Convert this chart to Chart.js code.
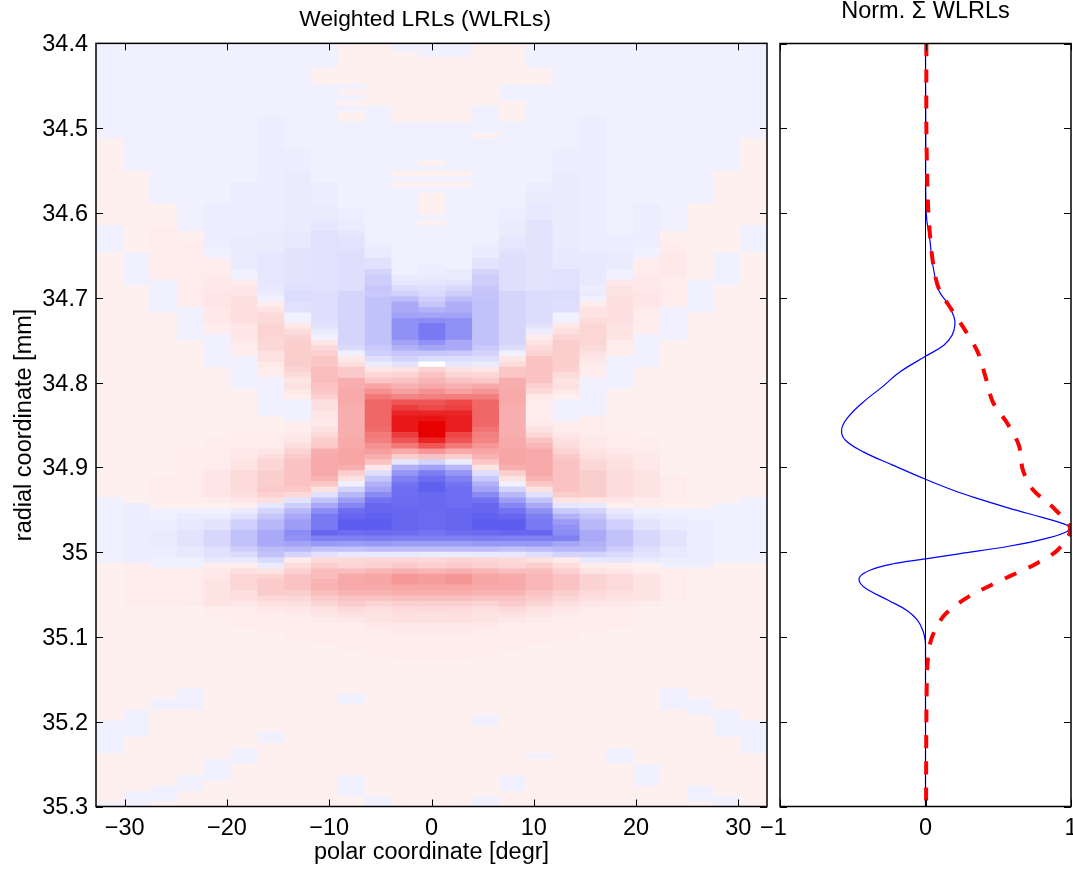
<!DOCTYPE html>
<html>
<head>
<meta charset="utf-8">
<title>Weighted LRLs</title>
<script src="https://cdn.jsdelivr.net/npm/chart.js@4/dist/chart.umd.js"></script>
<style>
    html, body { margin: 0; padding: 0; background: #fff; }
    #wrap { position: relative; width: 1073px; height: 869px; overflow: hidden; }
    .box { position: absolute; top: 0; height: 869px; }
</style>
</head>
<body>
<div id="wrap">
    <div class="box" style="left:0;width:775px"><canvas id="mapChart"></canvas></div>
    <div class="box" style="left:745px;width:328px"><canvas id="sumChart"></canvas></div>
</div>
<script>
// polar coordinate of each image column
const polarCoords = [-31.5, -28.875, -26.25, -23.625, -21, -18.375, -15.75, -13.125, -10.5, -7.875, -5.25, -2.625, 0,
    2.625, 5.25, 7.875, 10.5, 13.125, 15.75, 18.375, 21, 23.625, 26.25, 28.875, 31.5];

// one list per column: [first image row of the run, value in % of the colour range]
const col00 = [[0,-1],[18,1],[34,-1],[39,1],[84,-1],[96,1],[125,-1],[131,1],[140,-1]];
const col01 = [[0,-1],[24,1],[39,-1],[45,1],[85,-2],[96,2],[104,1],[123,-1],[128,1],[138,-1]];
const col02 = [[0,-1],[30,1],[34,2],[44,-1],[50,1],[80,2],[85,1],[86,-1],[88,-2],[90,-3],[93,-2],[95,-1],[97,2],[104,1],[121,-1],[123,1],[137,-1],[140,1]];
const col03 = [[0,-1],[35,1],[37,2],[42,3],[49,-1],[55,1],[75,2],[80,3],[85,1],[86,-1],[87,-3],[88,-4],[90,-6],[93,-4],[95,-1],[97,3],[104,1],[119,-1],[123,1],[135,-1],[138,1]];
const col04 = [[0,-1],[30,-2],[38,-1],[40,2],[43,4],[46,5],[49,4],[52,2],[54,-1],[60,1],[73,2],[76,3],[79,5],[84,3],[85,1],[86,-1],[87,-2],[88,-6],[90,-11],[93,-7],[95,-4],[96,2],[97,4],[99,6],[104,2],[106,1],[132,-1],[136,1]];
const col05 = [[0,-1],[26,-2],[36,-3],[42,-1],[44,3],[45,5],[47,8],[52,5],[55,3],[58,-1],[64,1],[72,2],[75,4],[77,6],[79,10],[83,8],[84,5],[85,1],[86,-3],[87,-7],[88,-14],[90,-20],[93,-15],[94,-10],[95,-4],[96,2],[97,7],[98,12],[101,8],[103,4],[104,2],[108,1],[130,-1],[133,1]];
const col06 = [[0,-1],[14,-2],[35,-3],[39,-5],[45,-4],[46,-3],[47,-1],[48,3],[49,6],[50,10],[52,13],[54,12],[55,11],[57,7],[59,4],[60,3],[62,-1],[69,1],[72,2],[73,3],[75,5],[76,8],[77,12],[79,15],[82,17],[83,14],[84,8],[85,-5],[86,-12],[87,-18],[88,-24],[90,-30],[93,-22],[94,-20],[95,-10],[96,-3],[97,6],[98,13],[99,16],[102,11],[103,7],[104,4],[105,2],[109,1],[127,-1],[129,1]];
const col07 = [[0,-1],[20,-2],[24,-3],[35,-4],[38,-6],[45,-7],[46,-9],[48,-7],[50,-1],[52,4],[53,9],[54,13],[55,15],[60,13],[61,9],[62,5],[63,7],[64,4],[65,2],[66,-1],[70,2],[72,4],[73,5],[74,8],[75,13],[76,16],[77,20],[82,17],[83,10],[84,-6],[85,-15],[86,-24],[87,-30],[88,-35],[90,-42],[91,-40],[92,-33],[93,-24],[94,-13],[95,3],[96,9],[97,14],[98,20],[101,15],[102,11],[103,8],[104,5],[105,3],[106,2],[110,1]];
const col08 = [[0,-1],[5,1],[8,-1],[26,-2],[30,-3],[33,-5],[35,-7],[46,-8],[52,-6],[53,-3],[54,-1],[55,5],[56,10],[57,14],[58,18],[60,22],[63,20],[64,18],[65,14],[66,7],[67,8],[68,5],[70,4],[71,7],[72,10],[73,15],[74,17],[75,28],[76,30],[80,26],[81,18],[82,7],[83,-7],[84,-20],[85,-30],[86,-42],[87,-50],[90,-58],[91,-47],[92,-37],[93,-20],[94,-7],[95,10],[96,15],[97,22],[99,26],[101,22],[102,16],[103,12],[104,7],[105,5],[106,3],[107,2],[111,1]];
const col09 = [[0,1],[8,-1],[9,1],[10,-1],[11,1],[12,-1],[13,1],[15,-1],[31,-2],[33,-3],[35,-5],[36,-6],[38,-7],[39,-8],[46,-12],[56,-10],[57,-1],[58,4],[59,8],[60,17],[62,28],[64,30],[67,28],[73,30],[75,32],[78,28],[79,15],[80,7],[81,-1],[82,-13],[83,-24],[84,-35],[85,-45],[86,-55],[87,-58],[88,-62],[90,-55],[91,-47],[92,-35],[93,-20],[94,-4],[95,10],[96,12],[97,22],[98,30],[101,26],[102,20],[103,16],[104,10],[105,7],[106,4],[107,2],[112,1],[120,-1],[122,1],[135,-1],[139,1]];
const col10 = [[0,1],[12,-1],[37,-2],[38,-3],[40,-7],[42,-12],[43,-15],[45,-18],[46,-17],[47,-20],[56,-17],[57,-14],[58,-8],[59,-3],[60,5],[61,12],[62,18],[63,32],[64,40],[65,50],[66,58],[71,55],[72,50],[73,47],[74,40],[75,35],[76,28],[77,20],[78,5],[79,-8],[80,-18],[81,-27],[82,-33],[83,-43],[84,-53],[85,-58],[87,-60],[88,-62],[90,-56],[91,-48],[92,-37],[93,-22],[94,-4],[95,12],[96,14],[97,25],[98,32],[100,30],[101,26],[102,20],[103,13],[104,8],[105,6],[107,4],[108,2],[113,1],[139,-1]];
const col11 = [[0,-1],[2,1],[15,-1],[24,1],[25,-1],[26,1],[27,-1],[43,-3],[44,-5],[45,-9],[46,-14],[47,-22],[48,-30],[50,-33],[51,-40],[55,-33],[56,-27],[57,-18],[58,-13],[59,-6],[60,7],[61,13],[62,20],[63,27],[64,33],[65,45],[66,65],[67,75],[68,85],[69,90],[72,75],[73,65],[74,50],[75,30],[76,15],[77,-5],[78,-27],[79,-38],[80,-47],[81,-52],[82,-55],[85,-56],[86,-58],[90,-55],[91,-47],[92,-35],[93,-22],[94,-4],[95,12],[96,16],[97,27],[98,37],[100,32],[101,28],[102,22],[103,15],[104,10],[105,8],[107,4],[109,2],[114,1]];
const col12 = [[0,-1],[3,1],[15,-1],[22,1],[23,-1],[24,1],[25,-1],[26,1],[27,-1],[28,1],[32,-1],[33,1],[34,-1],[41,-2],[43,-3],[44,-5],[45,-8],[46,-10],[47,-14],[48,-18],[49,-26],[50,-33],[51,-42],[52,-50],[55,-40],[56,-32],[57,-18],[58,-9],[59,0],[60,13],[61,20],[62,25],[63,30],[64,40],[65,47],[66,65],[67,70],[68,85],[69,92],[70,100],[73,85],[74,65],[75,38],[76,20],[77,-13],[78,-33],[79,-48],[80,-55],[81,-60],[83,-57],[86,-56],[90,-52],[91,-47],[92,-35],[93,-22],[94,-3],[95,11],[96,14],[97,25],[98,35],[100,32],[101,28],[102,22],[103,15],[104,10],[105,7],[107,4],[109,2],[114,1]];
const col13 = [[0,-1],[3,1],[15,-1],[24,1],[25,-1],[26,1],[27,-1],[42,-3],[44,-6],[45,-10],[46,-15],[47,-22],[48,-28],[50,-33],[51,-40],[55,-30],[57,-17],[58,-9],[59,-5],[60,7],[61,12],[62,20],[63,27],[64,33],[65,48],[66,70],[67,73],[68,85],[69,88],[72,72],[73,65],[74,50],[75,30],[76,15],[77,-3],[78,-24],[79,-38],[80,-47],[81,-52],[82,-55],[86,-58],[90,-55],[91,-47],[92,-35],[93,-22],[94,-3],[95,13],[96,16],[97,27],[98,38],[100,32],[101,28],[102,22],[103,15],[104,10],[105,8],[107,4],[109,2],[114,1]];
const col14 = [[0,1],[12,-1],[17,1],[18,-1],[37,-2],[38,-3],[40,-6],[42,-12],[43,-15],[45,-18],[46,-19],[47,-20],[56,-17],[57,-13],[58,-8],[59,-3],[60,5],[61,12],[62,17],[63,30],[64,38],[65,48],[66,58],[71,52],[72,48],[73,45],[74,38],[75,32],[76,26],[77,18],[78,6],[79,-8],[80,-17],[81,-27],[82,-33],[83,-43],[84,-53],[85,-58],[87,-60],[88,-62],[90,-56],[91,-48],[92,-37],[93,-22],[94,-4],[95,12],[96,14],[97,25],[98,32],[100,30],[101,26],[102,20],[103,13],[104,8],[105,6],[107,4],[108,2],[113,1],[124,-1],[126,1],[139,-1]];
const col15 = [[0,1],[8,-1],[11,1],[15,-1],[31,-2],[33,-3],[36,-5],[38,-6],[39,-8],[46,-12],[56,-9],[57,-1],[58,5],[59,9],[60,18],[62,28],[64,30],[67,28],[73,30],[75,32],[78,28],[79,15],[80,6],[81,-1],[82,-13],[83,-24],[84,-35],[85,-45],[86,-53],[87,-58],[88,-62],[90,-58],[91,-47],[92,-37],[93,-20],[94,-5],[95,10],[96,12],[97,22],[98,30],[101,26],[102,20],[103,16],[104,10],[105,7],[106,4],[107,2],[112,1],[135,-1],[138,1]];
const col16 = [[0,-1],[5,1],[8,-1],[26,-2],[28,-3],[30,-4],[33,-6],[46,-9],[52,-6],[53,-2],[54,3],[55,6],[56,10],[57,13],[58,20],[63,14],[64,10],[65,4],[66,3],[67,2],[70,4],[71,7],[72,11],[73,20],[74,25],[75,30],[80,26],[81,18],[82,7],[83,-7],[84,-20],[85,-30],[86,-40],[87,-48],[88,-50],[90,-58],[91,-47],[92,-37],[93,-22],[94,-8],[95,8],[96,15],[97,22],[98,25],[101,20],[102,16],[103,12],[104,7],[105,5],[106,3],[107,2],[111,1],[131,-1],[132,1]];
const col17 = [[0,-1],[20,-2],[24,-3],[38,-4],[42,-7],[46,-9],[48,-8],[50,-1],[52,4],[53,8],[54,12],[55,15],[60,14],[61,9],[62,6],[63,7],[64,4],[65,1],[66,-1],[70,2],[71,3],[72,5],[73,7],[74,9],[75,13],[76,17],[77,20],[83,15],[84,6],[85,-5],[86,-17],[87,-27],[88,-36],[89,-40],[90,-42],[91,-47],[92,-32],[93,-24],[94,-13],[95,3],[96,9],[97,14],[98,20],[101,15],[102,11],[103,8],[104,5],[105,3],[106,2],[110,1]];
const col18 = [[0,-1],[14,-2],[39,-4],[45,-2],[46,-3],[47,-1],[48,3],[49,6],[51,9],[52,12],[56,10],[57,7],[58,5],[59,3],[60,2],[62,-1],[69,2],[72,3],[73,4],[75,6],[76,8],[77,11],[79,15],[84,5],[85,-4],[86,-13],[87,-19],[88,-24],[90,-30],[92,-27],[93,-24],[94,-13],[95,-4],[96,3],[97,6],[98,13],[101,10],[102,8],[103,5],[104,3],[105,2],[109,1]];
const col19 = [[0,-1],[36,-2],[39,-3],[42,-1],[44,4],[45,6],[47,8],[52,6],[55,3],[58,-1],[64,1],[72,2],[75,4],[76,6],[77,7],[79,9],[84,5],[85,1],[86,-4],[87,-7],[88,-14],[90,-20],[93,-15],[94,-10],[95,-5],[96,2],[97,5],[98,10],[101,8],[102,6],[103,4],[104,2],[108,1],[130,-1],[133,1]];
const col20 = [[0,-1],[30,-2],[38,-1],[40,2],[43,4],[46,5],[49,3],[52,2],[54,-1],[60,1],[73,2],[75,3],[76,4],[79,6],[84,3],[85,2],[86,-1],[87,-3],[88,-6],[90,-11],[93,-8],[94,-6],[95,-3],[96,1],[97,2],[98,6],[103,3],[104,1],[133,-1],[137,1]];
const col21 = [[0,-1],[35,1],[37,2],[39,4],[43,3],[49,-1],[55,1],[80,3],[85,1],[86,-1],[87,-2],[88,-3],[90,-6],[93,-4],[95,-2],[96,-1],[97,2],[98,3],[103,1],[119,-1],[123,1]];
const col22 = [[0,-1],[30,1],[44,-1],[50,1],[86,-1],[88,-2],[96,-1],[97,1],[121,-1],[124,1],[137,-1],[140,1]];
const col23 = [[0,-1],[24,1],[39,-1],[45,1],[85,-1],[96,1],[123,-1],[128,1],[139,-1]];
const col24 = [[0,-1],[18,1],[34,-1],[39,1],[84,-1],[96,1],[125,-1],[131,1]];
const imageColumns = [col00, col01, col02, col03, col04, col05, col06, col07, col08, col09, col10, col11, col12,
    col13, col14, col15, col16, col17, col18, col19, col20, col21, col22, col23, col24];
const rowCount = 141;
const firstRowEdge = 34.3969;
const rowStep = 0.006417;

// right panel curves, radial position and normalised value
const lrlRadial = [34.4, 34.5, 34.6, 34.632, 34.661, 34.691, 34.706, 34.722, 34.732, 34.744, 34.756, 34.769, 34.787, 34.805, 34.824, 34.842, 34.856, 34.868, 34.882, 34.897, 34.914, 34.927, 34.936, 34.948, 34.959, 34.966, 34.97, 34.976, 34.984, 34.993, 35.002, 35.008, 35.014, 35.021, 35.029, 35.037, 35.045, 35.057, 35.069, 35.08, 35.092, 35.104, 35.119, 35.3];
const lrlValues = [0, 0.002, 0.005, 0.03, 0.05, 0.091, 0.149, 0.195, 0.202, 0.183, 0.126, 0, -0.172, -0.297, -0.435, -0.538, -0.577, -0.55, -0.424, -0.229, 0, 0.19, 0.344, 0.573, 0.802, 0.94, 0.985, 0.97, 0.825, 0.573, 0.229, 0, -0.229, -0.378, -0.451, -0.447, -0.39, -0.253, -0.125, -0.057, -0.019, -0.002, 0, 0];
const envRadial = [34.4, 34.5, 34.561, 34.6, 34.643, 34.673, 34.691, 34.712, 34.737, 34.764, 34.793, 34.823, 34.848, 34.874, 34.903, 34.926, 34.95, 34.973, 34.998, 35.015, 35.028, 35.041, 35.056, 35.075, 35.102, 35.131, 35.198, 35.3];
const envValues = [0.006, 0.006, 0.012, 0.02, 0.04, 0.065, 0.096, 0.172, 0.268, 0.359, 0.412, 0.463, 0.562, 0.642, 0.669, 0.737, 0.893, 0.996, 0.905, 0.745, 0.584, 0.424, 0.264, 0.126, 0.041, 0.014, 0.006, 0.004];
const zeroLine = [{x: 0, y: 34.4}, {x: 0, y: 35.3}];

// tick labels
const radialTicks = [34.4, 34.5, 34.6, 34.7, 34.8, 34.9, 35, 35.1, 35.2, 35.3];
const polarTicks = [-30, -20, -10, 0, 10, 20, 30];
const sumTicks = [-1, 0, 1];

const fontFamily = "'Liberation Sans', Arial, sans-serif";
const labelSize = 23.5;

function cellColor(p) {
    if (p === 0) return "#ffffff";
    let a = Math.abs(p) / 100;
    let weak = Math.round(242 * (1 - a));
    let strong = Math.round(255 - 25 * a);
    return p > 0 ? `rgb(${strong},${weak},${weak})` : `rgb(${weak},${weak},${strong})`;
}

function rowEdge(row) {
    return firstRowEdge + rowStep * row;
}

function columnDataset(runs, colIndex) {
    let data = runs.map((run, i) => {
        let end = i + 1 < runs.length ? runs[i + 1][0] : rowCount;
        return {x: polarCoords[colIndex], y: [rowEdge(run[0]), rowEdge(end)]};
    });
    return {
        data: data,
        backgroundColor: runs.map(run => cellColor(run[1])),
        borderWidth: 0,
        grouped: false,
        barPercentage: 1,
        categoryPercentage: 1
    };
}

// matlab style ticks: inside the frame, on all four sides
const frameTicks = {
    id: "frameTicks",
    afterDatasetsDraw(chart) {
        let ctx = chart.ctx;
        let area = chart.chartArea;
        let len = 7;
        ctx.save();
        ctx.strokeStyle = "#000";
        ctx.lineWidth = 1;
        ctx.beginPath();
        chart.scales.x.ticks.forEach(t => {
            let px = Math.round(chart.scales.x.getPixelForValue(t.value)) + 0.5;
            ctx.moveTo(px, area.top);
            ctx.lineTo(px, area.top + len);
            ctx.moveTo(px, area.bottom);
            ctx.lineTo(px, area.bottom - len);
        });
        chart.scales.y.ticks.forEach(t => {
            let py = Math.round(chart.scales.y.getPixelForValue(t.value)) + 0.5;
            ctx.moveTo(area.left, py);
            ctx.lineTo(area.left + len, py);
            ctx.moveTo(area.right, py);
            ctx.lineTo(area.right - len, py);
        });
        ctx.stroke();
        ctx.lineWidth = 1.5;
        ctx.strokeRect(area.left, area.top, area.right - area.left, area.bottom - area.top);
        ctx.restore();
    }
};

function setTicks(list) {
    return scale => { scale.ticks = list.map(v => ({value: v})); };
}

function fitX(scale) {
    scale.height = 62.5;
    scale.paddingLeft = 0;
    scale.paddingRight = 0;
}

function tickLabel(value) {
    return String(value).replace("-", "\u2212");
}

Chart.defaults.font.family = fontFamily;
Chart.defaults.color = "#000";
Chart.defaults.animation = false;
Chart.defaults.responsive = true;
Chart.defaults.maintainAspectRatio = false;

new Chart(document.getElementById("mapChart"), {
    type: "bar",
    data: {datasets: imageColumns.map(columnDataset)},
    options: {
        layout: {padding: {right: 8, left: 0, top: 0, bottom: 0}},
        plugins: {
            legend: {display: false},
            tooltip: {enabled: false},
            title: {
                display: true,
                text: "Weighted LRLs (WLRLs)  ",
                fullSize: false,
                font: {size: 22.8, weight: "normal"},
                padding: {top: 6, bottom: 10}
            }
        },
        scales: {
            x: {
                type: "linear",
                offset: false,
                min: -32.8125,
                max: 32.8125,
                afterBuildTicks: setTicks(polarTicks),
                afterFit: fitX,
                grid: {display: false, drawTicks: false},
                border: {display: false},
                ticks: {font: {size: labelSize}, padding: 8, maxRotation: 0, autoSkip: false, callback: tickLabel},
                title: {display: true, text: "polar coordinate [degr]", font: {size: labelSize}, padding: {top: 0, bottom: 2}}
            },
            y: {
                type: "linear",
                reverse: true,
                min: 34.4,
                max: 35.3,
                afterBuildTicks: setTicks(radialTicks),
                afterFit: scale => { scale.width = 96; scale.paddingTop = 0; scale.paddingBottom = 0; },
                grid: {display: false, drawTicks: false},
                border: {display: false},
                ticks: {font: {size: labelSize}, padding: 8, labelOffset: 1.5, autoSkip: false, callback: tickLabel},
                title: {display: true, text: "radial coordinate [mm]", font: {size: labelSize}, padding: {top: 10, bottom: 0}}
            }
        }
    },
    plugins: [frameTicks]
});

new Chart(document.getElementById("sumChart"), {
    type: "scatter",
    data: {
        datasets: [
            {
                data: envRadial.map((r, i) => ({x: envValues[i], y: r})),
                showLine: true,
                borderColor: "#ff0000",
                borderWidth: 4,
                borderDash: [13, 13],
                tension: 0.3,
                pointRadius: 0
            },
            {
                data: zeroLine,
                showLine: true,
                borderColor: "#000000",
                borderWidth: 1,
                pointRadius: 0
            },
            {
                data: lrlRadial.map((r, i) => ({x: lrlValues[i], y: r})),
                showLine: true,
                borderColor: "#0000ff",
                borderWidth: 1.2,
                tension: 0.4,
                pointRadius: 0
            }
        ]
    },
    options: {
        layout: {padding: {right: 2, left: 0, top: 0, bottom: 0}},
        plugins: {
            legend: {display: false},
            tooltip: {enabled: false},
            title: {
                display: true,
                text: "Norm. \u03a3 WLRLs",
                fullSize: false,
                font: {size: labelSize, weight: "normal"},
                padding: {top: -2.5, bottom: 17.8}
            }
        },
        scales: {
            x: {
                type: "linear",
                min: -1,
                max: 1,
                afterBuildTicks: setTicks(sumTicks),
                afterFit: fitX,
                grid: {display: false, drawTicks: false},
                border: {display: false},
                ticks: {
                    font: {size: labelSize},
                    padding: 8,
                    maxRotation: 0,
                    autoSkip: false,
                    // the -1 label sits a little left of its tick in the original
                    callback: value => value === -1 ? tickLabel(value) + "  " : tickLabel(value)
                }
            },
            y: {
                type: "linear",
                reverse: true,
                min: 34.4,
                max: 35.3,
                afterBuildTicks: setTicks(radialTicks),
                afterFit: scale => { scale.width = 35; scale.paddingTop = 0; scale.paddingBottom = 0; },
                grid: {display: false, drawTicks: false},
                border: {display: false},
                ticks: {display: false}
            }
        }
    },
    plugins: [frameTicks]
});
</script>
</body>
</html>
